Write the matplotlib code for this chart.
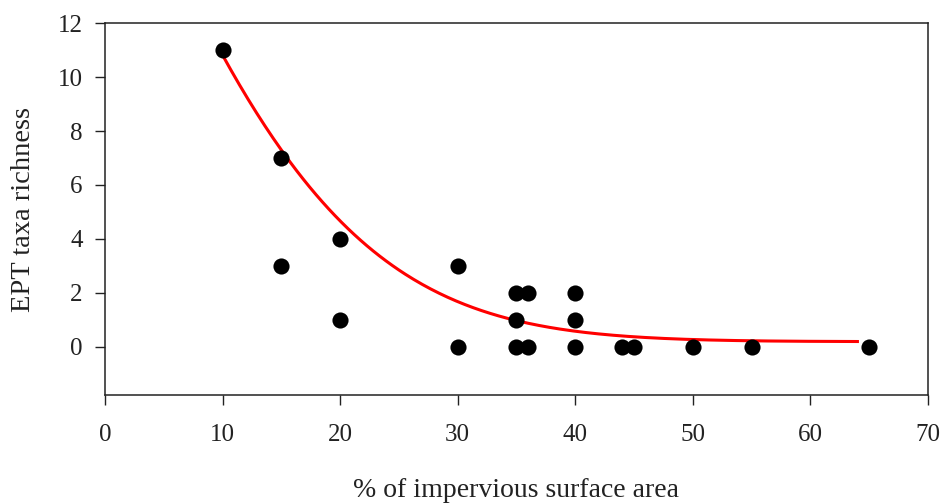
import numpy as np
import matplotlib
matplotlib.use("Agg")
import matplotlib.pyplot as plt

# Data
impervious = [10, 15, 15, 20, 20, 30, 30, 35, 35, 35, 36, 36, 40, 40, 40, 44, 45, 50, 55, 65]
ept_richness = [11, 7, 3, 4, 1, 3, 0, 2, 1, 0, 2, 0, 2, 1, 0, 0, 0, 0, 0, 0]

# Fitted decay curve parameters
curve_start, curve_end = 10, 64
curve_a, curve_k, curve_x0, curve_c = 10.64, 0.0012, -21.0, 0.18

x_ticks = [0, 10, 20, 30, 40, 50, 60, 70]
y_ticks = [0, 2, 4, 6, 8, 10, 12]

plt.rcParams['font.family'] = ['Liberation Serif', 'DejaVu Serif']

fig = plt.figure(figsize=(9.44, 5.03), dpi=100)
ax = fig.add_axes([0.1112, 0.2147, 0.8718, 0.739])

xc = np.linspace(curve_start, curve_end, 300)
yc = curve_c + curve_a * np.exp(-curve_k * ((xc - curve_x0) ** 2 - (curve_start - curve_x0) ** 2))
ax.plot(xc, yc, color='#ff0000', lw=2.2, zorder=2)
ax.scatter(impervious, ept_richness, s=135, color='black', zorder=3, linewidths=0)

ax.set_xlim(0, 70)
ax.set_ylim(-1.8, 12)
ax.set_xticks(x_ticks)
ax.set_yticks(y_ticks)
ax.tick_params(axis='both', direction='out', length=7, width=1.0, labelsize=18,
               colors='#222222')
ax.tick_params(axis='x', pad=14)
ax.tick_params(axis='y', pad=9)
for s in ax.spines.values():
    s.set_linewidth(1.1)
    s.set_color('#222222')

ax.set_xlabel('% of impervious surface area', fontsize=20, labelpad=23, color='#222222')
ax.set_ylabel('EPT taxa richness', fontsize=20.5, labelpad=16, color='#222222')

fig.savefig('out.png', dpi=100)
